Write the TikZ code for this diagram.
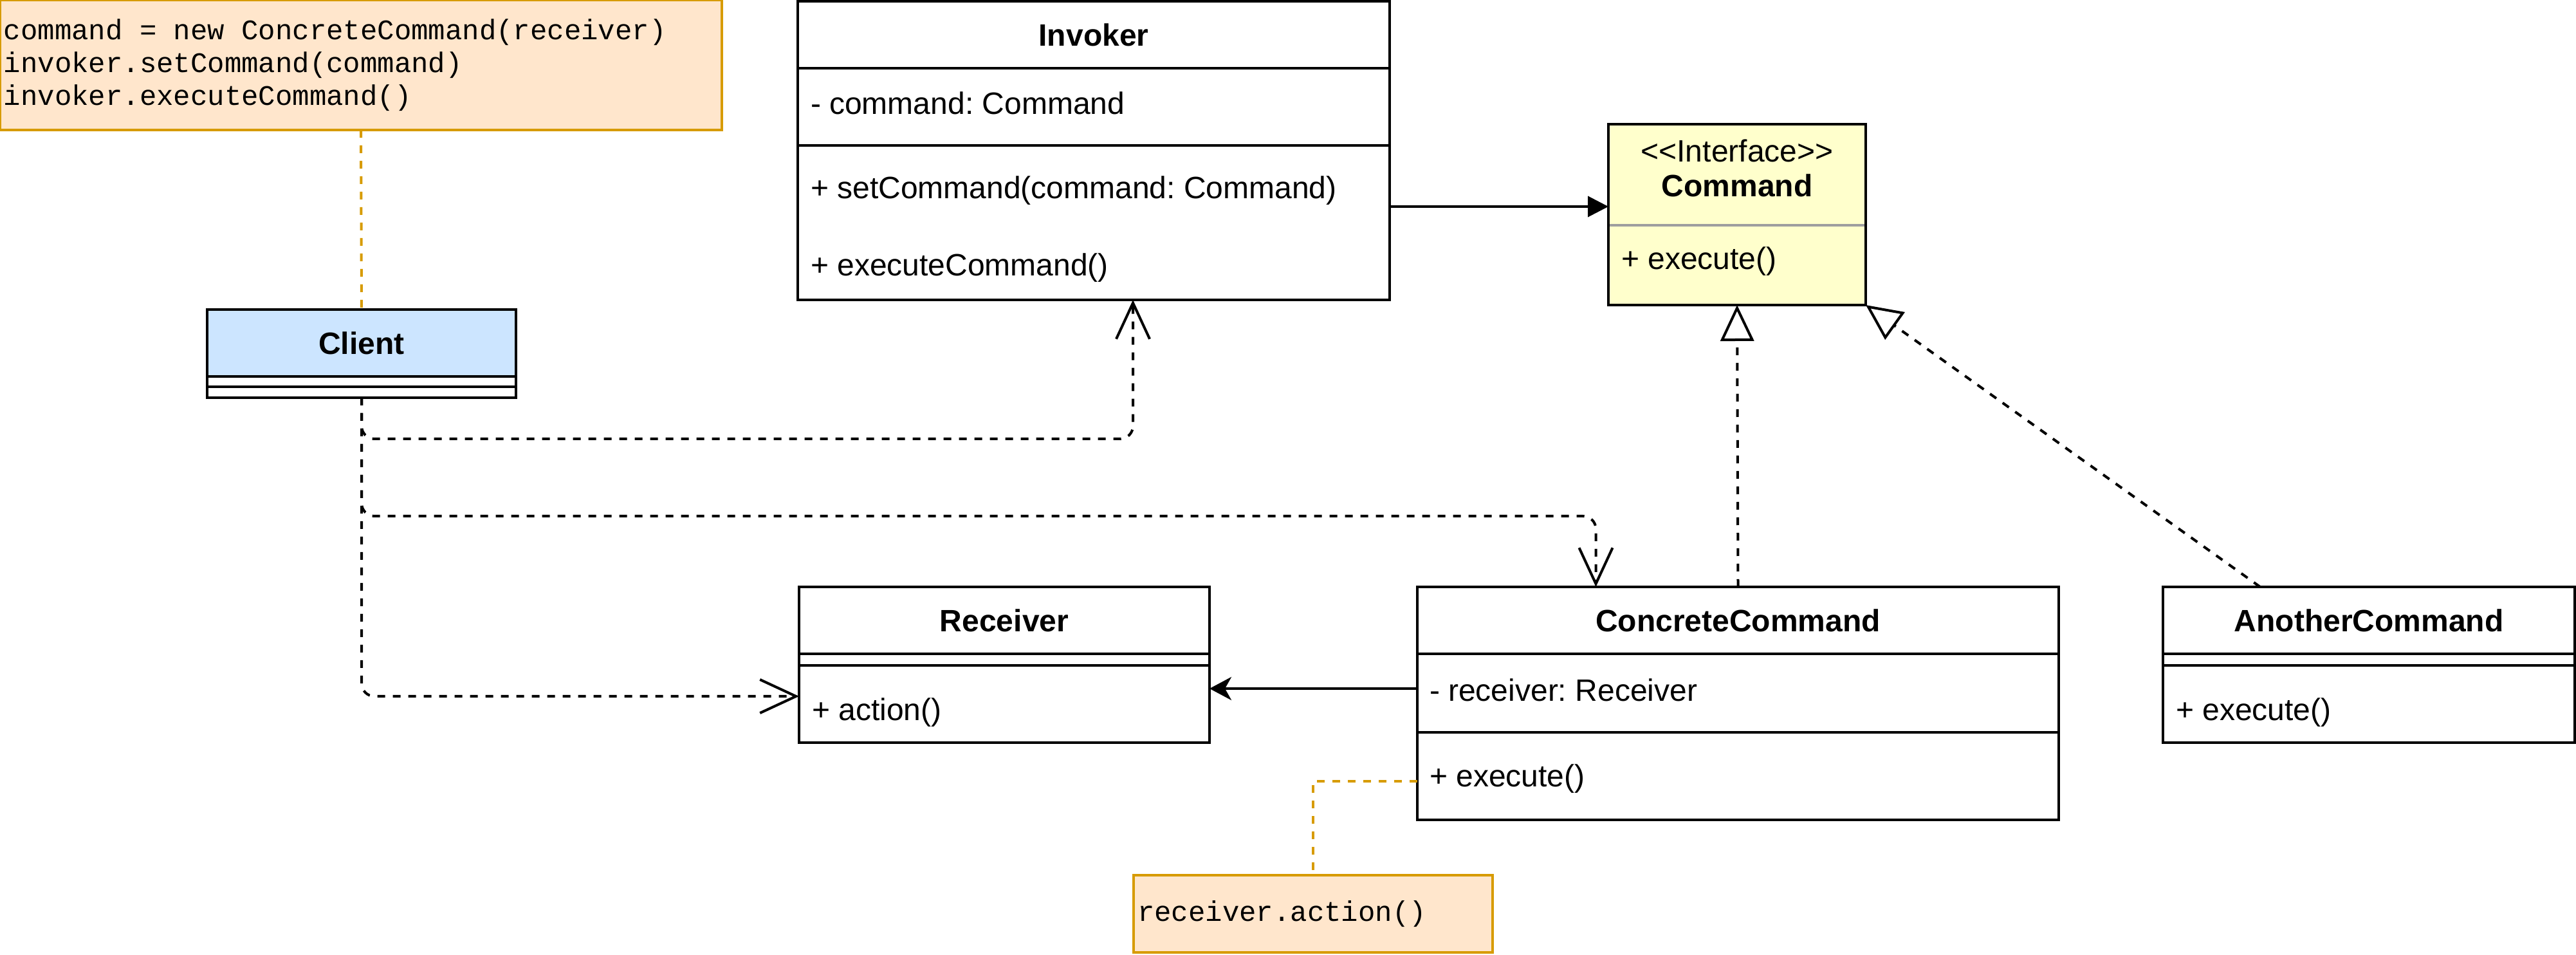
\documentclass[tikz,border=0pt]{standalone}
\usepackage{fontspec}
\setmainfont{Liberation Sans}
\setmonofont{Liberation Mono}
\usetikzlibrary{arrows.meta, positioning}
\definecolor{notefill}{HTML}{FFE6CC}
\definecolor{notedraw}{HTML}{D79B00}
\definecolor{clientfill}{HTML}{CCE5FF}
\definecolor{ifacefill}{HTML}{FFFFCC}
\definecolor{sepgray}{HTML}{9E9E9E}
\newcommand\ttsp{\hbox to 0.6em{}}

\begin{document}
\frenchspacing
\begin{tikzpicture}[x=1pt, y=-1pt, line width=1pt,
  cls/.style={draw, rectangle, anchor=north west, inner sep=0pt, outer sep=0pt, minimum width=#1},
  hd/.style={font=\fontsize{12}{14.4}\selectfont\bfseries},
  mem/.style={anchor=west, inner sep=0pt, font=\fontsize{12}{14.4}\selectfont},
  note/.style={draw=notedraw, fill=notefill, anchor=north west, inner xsep=1.5pt, inner ysep=0pt, outer sep=0pt, align=left, font=\ttfamily\fontsize{11}{12.75}\selectfont},
  dep/.style={dash pattern=on 3pt off 3pt, rounded corners=5pt, -{Straight Barb[length=14pt, width=13pt]}},
  real/.style={dash pattern=on 3pt off 3pt, -{Triangle[length=14pt, width=13pt, fill=white]}},
  link/.style={draw=notedraw, dash pattern=on 3pt off 3pt}]
\useasboundingbox (0,0) rectangle (1001,371);

% notes
\node[note, text width=277.5pt, minimum height=50.5pt] (n1) at (0,0) {command\ttsp=\ttsp new\ttsp ConcreteCommand(receiver)\\invoker.setCommand(command)\\invoker.executeCommand()};
\node[note, text width=136.5pt, minimum height=30pt] (n2) at (440.5,340) {receiver.action()};

% classes
\node[cls=120, minimum height=26, fill=clientfill, hd] (clh) at (80.5,120.25) {Client};
\node[cls=120, minimum height=4, fill=white] (cla) at (clh.south west) {};
\node[cls=120, minimum height=4.25, fill=white] (clm) at (cla.south west) {};

\node[cls=230, minimum height=26, hd] (invh) at (310,0.5) {Invoker};
\node[cls=230, minimum height=30] (inva) at (invh.south west) {};
\node[cls=230, minimum height=60] (invm) at (inva.south west) {};
\node[mem] (inv1) at (314.5,40) {- command: Command};
\node[mem] (inv2) at (314.5,74) {+ setCommand(command: Command)};
\node[mem] (inv3) at (314.5,104) {+ executeCommand()};

\node[cls=100, minimum height=39.25, fill=ifacefill] (cmdh) at (625,48.25) {};
\node[cls=100, minimum height=31, fill=ifacefill] (cmdm) at (cmdh.south west) {};
\draw[sepgray] ([xshift=0.5pt]cmdh.south west) -- ([xshift=-0.5pt]cmdh.south east);
\node[align=center, inner sep=0pt, font=\fontsize{12}{13.5}\selectfont] (cmdt) at (675,65.4) {{<}{<}Interface{>}{>}\\\textbf{Command}};
\node[mem] (cmd1) at (629.5,101.5) {+ execute()};

\node[cls=159.5, minimum height=26, hd] (rech) at (310.5,228) {Receiver};
\node[cls=159.5, minimum height=4.5] (reca) at (rech.south west) {};
\node[cls=159.5, minimum height=30] (recm) at (reca.south west) {};
\node[mem] (rec1) at (315,276.75) {+ action()};

\node[cls=249.25, minimum height=26, hd] (cch) at (550.75,228) {ConcreteCommand};
\node[cls=249.25, minimum height=30.5] (cca) at (cch.south west) {};
\node[cls=249.25, minimum height=34] (ccm) at (cca.south west) {};
\node[mem] (cc1) at (555,268) {- receiver: Receiver};
\node[mem] (cc2) at (555,302.5) {+ execute()};

\node[cls=160, minimum height=26, hd] (ach) at (840.5,228) {AnotherCommand};
\node[cls=160, minimum height=4.5] (aca) at (ach.south west) {};
\node[cls=160, minimum height=30] (acm) at (aca.south west) {};
\node[mem] (ac1) at (845,276.75) {+ execute()};

% connectors
\draw[link] (n1.south) -- (clh.north);
\draw[link] ([yshift=-2pt]ccm.west) -| (n2.north);
\draw[dep] (clm.south) -- ++(0,16) -| ([xshift=15.25pt]invm.south);
\draw[dep] (clm.south) -- ++(0,46) -| ([xshift=-55.25pt]cch.north);
\draw[dep] (clm.south) |- ([yshift=3pt]recm.west);
\coordinate (ic) at ([yshift=6.25pt]invm.east);
\draw[-{Triangle[length=8pt, width=8pt]}] (ic) -- (ic -| cmdh.west);
\coordinate (rc) at ([yshift=1.75pt]cca.west);
\draw[-{Stealth[length=8.5pt, width=9pt, inset=2.5pt]}] (rc) -- (rc -| recm.east);
\draw[real] (cch.north) -- (cmdm.south);
\draw[real] ([xshift=-42.25pt]ach.north) -- (cmdm.south east);
\end{tikzpicture}
\end{document}
